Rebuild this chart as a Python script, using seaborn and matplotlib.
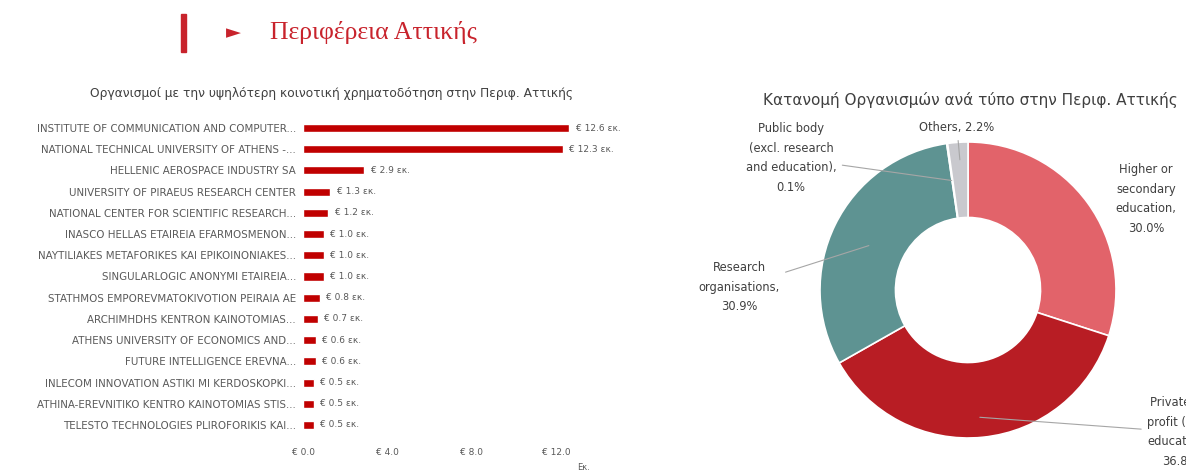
import matplotlib
matplotlib.use('Agg')
import matplotlib.pyplot as plt
import seaborn as sns
import pandas as pd
from matplotlib.patches import Rectangle

# Δεδομένα: οργανισμοί με τη μεγαλύτερη χρηματοδότηση (εκ. €)
organismoi = [
    'INSTITUTE OF COMMUNICATION AND COMPUTER...',
    'NATIONAL TECHNICAL UNIVERSITY OF ATHENS -...',
    'HELLENIC AEROSPACE INDUSTRY SA',
    'UNIVERSITY OF PIRAEUS RESEARCH CENTER',
    'NATIONAL CENTER FOR SCIENTIFIC RESEARCH...',
    'INASCO HELLAS ETAIREIA EFARMOSMENON...',
    'NAYTILIAKES METAFORIKES KAI EPIKOINONIAKES...',
    'SINGULARLOGIC ANONYMI ETAIREIA...',
    'STATHMOS EMPOREVMATOKIVOTION PEIRAIA AE',
    'ARCHIMHDHS KENTRON KAINOTOMIAS...',
    'ATHENS UNIVERSITY OF ECONOMICS AND...',
    'FUTURE INTELLIGENCE EREVNA...',
    'INLECOM INNOVATION ASTIKI MI KERDOSKOPKI...',
    'ATHINA-EREVNITIKO KENTRO KAINOTOMIAS STIS...',
    'TELESTO TECHNOLOGIES PLIROFORIKIS KAI...',
]
xrimatodotisi = [12.6, 12.3, 2.9, 1.3, 1.2, 1.0, 1.0, 1.0, 0.8, 0.7, 0.6, 0.6, 0.5, 0.5, 0.5]
x_ticks = [0, 4, 8, 12]

# Δεδομένα: κατανομή οργανισμών ανά τύπο (%)
typoi = ['Higher or\nsecondary\neducation,\n30.0%',
         'Private for\nprofit (excl.\neducation),\n36.8%',
         'Research\norganisations,\n30.9%',
         'Public body\n(excl. research\nand education),\n0.1%',
         'Others, 2.2%']
pososta = [30.0, 36.8, 30.9, 0.1, 2.2]
xromata = ['#E2636A', '#B81D24', '#5E9392', '#5E9392', '#C9C9CE']

sns.set_theme(style='white')
plt.rcParams['font.family'] = ['DejaVu Sans']

W, H = 1186, 475
fig = plt.figure(figsize=(W / 100, H / 100), dpi=100)

def fx(px):
    return px / W

def fy(py):
    return 1 - py / H

# Επικεφαλίδα
fig.patches.append(Rectangle((fx(181), fy(52)), fx(5), 38 / H, transform=fig.transFigure,
                             color='#C8232C', zorder=5))
fig.text(fx(233), fy(33), '►', color='#C8232C', fontsize=14, ha='center', va='center',
         family='DejaVu Sans')
fig.text(fx(270), fy(33), 'Περιφέρεια Αττικής', color='#C8232C', fontsize=18.5,
         ha='left', va='center', family='Liberation Serif')

# Γράφημα ράβδων
df = pd.DataFrame({'Οργανισμός': organismoi, 'Ποσό': xrimatodotisi})
ax = fig.add_axes([fx(303), fy(435.6), (641 - 303) / W, (435.6 - 117.4) / H])
sns.barplot(data=df, x='Ποσό', y='Οργανισμός', color='#C00000', width=0.38,
            saturation=1, ax=ax)
ax.set_xlim(0, 16)
ax.set_xticks(x_ticks)
ax.set_xticklabels([f'€ {t:.1f}' for t in x_ticks], fontsize=6.5, color='#595959')
ax.tick_params(axis='x', length=0, pad=9)
ax.tick_params(axis='y', length=0, pad=5, labelsize=7.4, labelcolor='#595959')
ax.set_xlabel('')
ax.set_ylabel('')
sns.despine(ax=ax, left=True, bottom=True)
for i, v in enumerate(xrimatodotisi):
    ax.text(v + 0.3, i, f'€ {v:.1f} εκ.', va='center', ha='left', fontsize=6.5,
            color='#595959')
fig.text(fx(583), fy(468), 'Εκ.', fontsize=6, color='#595959', ha='center', va='center')
fig.text(fx(332), fy(93), 'Οργανισμοί με την υψηλότερη κοινοτική χρηματοδότηση στην Περιφ. Αττικής',
         fontsize=8.8, color='#404040', ha='center', va='center')

# Γράφημα ντόνατ
cx, cy, r = 968, 290, 148
ax2 = fig.add_axes([fx(680), 0, (W - 680) / W, fy(100)])
ax2.pie(pososta, colors=xromata, startangle=90, counterclock=False,
        wedgeprops=dict(width=0.51, edgecolor='white', linewidth=1.2))
ax2.set_aspect('auto')
ax2.set_xlim((680 - cx) / r, (W - cx) / r)
ax2.set_ylim(-(H - cy) / r, (cy - 100) / r)
ax2.axis('off')

def d(px, py):
    return ((px - cx) / r, (cy - py) / r)

etiketes = [
    # (κείμενο, θέση κειμένου, σημείο γραμμής)
    (typoi[0], d(1146, 199), None),
    (typoi[1], d(1180, 432), (0.08, -0.86)),
    (typoi[2], d(739, 287), (-0.67, 0.30)),
    (typoi[3], d(791, 158), (-0.11, 0.74)),
    (typoi[4], d(957, 128), (-0.055, 0.88)),
]
for keimeno, thesi, simeio in etiketes:
    if simeio is None:
        ax2.text(thesi[0], thesi[1], keimeno, ha='center', va='center', fontsize=8.3,
                 color='#404040', linespacing=1.65)
    else:
        ax2.annotate(keimeno, xy=simeio, xytext=thesi, ha='center', va='center',
                     fontsize=8.3, color='#404040', linespacing=1.65,
                     arrowprops=dict(arrowstyle='-', color='#A6A6A6', lw=0.8,
                                     shrinkA=2, shrinkB=0))

fig.text(fx(970), fy(100), 'Κατανομή Οργανισμών ανά τύπο στην Περιφ. Αττικής',
         fontsize=11, color='#404040', ha='center', va='center')

fig.savefig('out.png', dpi=100)
